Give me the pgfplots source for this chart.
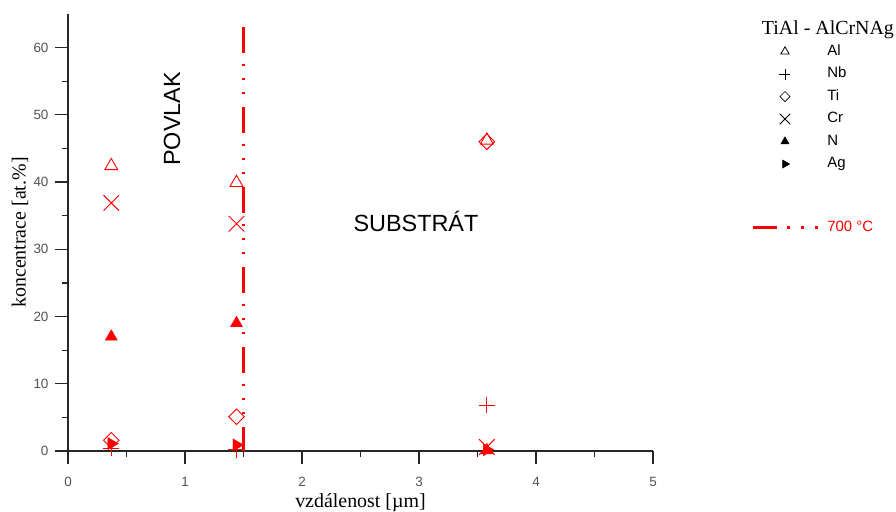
\documentclass[border=0pt]{standalone}
\usepackage{fontspec}
\setmainfont{Liberation Serif}
\setsansfont{Liberation Sans}
\usepackage{pgfplots}
\pgfplotsset{compat=1.18}
\newcommand\tl[1]{\sffamily\fontsize{13.5}{13.5}\selectfont #1}
\begin{document}
\begin{tikzpicture}
\path[use as bounding box] (-68bp,-61bp) rectangle (828bp,451bp);
\begin{axis}[
  scale only axis, width=585bp, height=437bp,
  xmin=0, xmax=5, ymin=0, ymax=65,
  axis lines*=left,
  axis line style={line width=1.4bp, black!85},
  xtick={0,1,2,3,4,5}, minor xtick={0.5,1.5,2.5,3.5,4.5},
  xticklabels={\tl{0},\tl{1},\tl{2},\tl{3},\tl{4},\tl{5}},
  ytick={0,10,20,30,40,50,60}, minor ytick={5,15,25,35,45,55},
  yticklabels={\tl{0},\tl{10},\tl{20},\tl{30},\tl{40},\tl{50},\tl{60}},
  tick align=outside,
  major tick length=13bp, minor tick length=6bp,
  tick style={line width=1.2bp, black!85},
  every tick label/.append style={text=black!68},
  xticklabel shift=10bp,
  yticklabel shift=3bp,
  xlabel={vzdálenost [µm]}, ylabel={koncentrace [at.\%]},
  every axis x label/.style={at={(axis description cs:0.5,-0.118)}, anchor=center, font=\fontsize{20}{20}\selectfont},
  every axis y label/.style={at={(axis description cs:-0.082,0.5)}, anchor=center, rotate=90, font=\fontsize{20}{20}\selectfont},
  clip=false,
  legend style={at={(axis description cs:1.1692,0.930)}, anchor=north west, draw=none, fill=none,
    font=\sffamily\fontsize{15}{15}\selectfont,
    nodes={inner sep=0pt, text height=10.5bp, text depth=3bp},
    row sep=9bp, column sep=8bp, inner sep=0pt},
  legend cell align=left,
  legend image code/.code={\draw[mark repeat=2, mark phase=2, #1] plot coordinates {(0bp,0bp) (31.5bp,0bp) (63bp,0bp)};},
]
\addlegendimage{black, only marks, mark=triangle, mark size=4.8bp, line width=0.8bp}
\addlegendentry{Al}
\addlegendimage{black, only marks, mark=+, mark size=5.5bp, line width=0.6bp}
\addlegendentry{Nb}
\addlegendimage{black, only marks, mark=square, mark options={rotate=45}, mark size=3.6bp, line width=0.6bp}
\addlegendentry{Ti}
\addlegendimage{black, only marks, mark=x, mark size=7.5bp, line width=0.9bp}
\addlegendentry{Cr}
\addlegendimage{black, only marks, mark=triangle*, mark size=4.8bp}
\addlegendentry{N}
\addlegendimage{black, only marks, mark=triangle*, mark options={rotate=-90}, mark size=4.8bp}
\addlegendentry{Ag}
\addlegendimage{empty legend}
\addlegendentry[text height=29bp]{}
\addlegendimage{legend image code/.code={\draw[red, line width=2.6bp, dash pattern=on 24bp off 10bp on 2.5bp off 11.5bp on 2.5bp off 11.5bp on 2.5bp off 20bp] (0bp,0bp) -- (64.5bp,0bp);}}
\addlegendentry[text=red]{700 °C}

% Al
\addplot[red, only marks, mark=triangle, mark size=7.5bp, line width=0.9bp, forget plot]
  coordinates {(0.37,42.4) (1.44,39.9) (3.58,46.2)};
% Nb
\addplot[red, only marks, mark=+, mark size=8bp, line width=0.9bp, forget plot]
  coordinates {(0.37,0.4) (1.44,0.2) (3.58,6.8)};
% Ti
\addplot[red, only marks, mark=square, mark options={rotate=45}, mark size=5.5bp, line width=0.9bp, forget plot]
  coordinates {(0.37,1.6) (1.44,5.1) (3.58,46.0)};
% Cr
\addplot[red, only marks, mark=x, mark size=11bp, line width=1bp, forget plot]
  coordinates {(0.37,36.9) (1.44,33.8) (3.58,0.6)};
% N
\addplot[red, only marks, mark=triangle*, mark size=7bp, forget plot]
  coordinates {(0.37,17.0) (1.44,19.0) (3.58,0.1)};
% Ag
\addplot[red, only marks, mark=triangle*, mark options={rotate=-90}, mark size=7bp, forget plot]
  coordinates {(0.37,1.1) (1.44,0.9) (3.58,0.2)};

% vertical 700 C line (dash-dot-dot)
\addplot[red, mark=none, line width=2.6bp, dash pattern=on 26bp off 11bp on 2.5bp off 11.5bp on 2.5bp off 11.5bp on 2.5bp off 12.5bp, forget plot]
  coordinates {(1.5,63.1) (1.5,0)};

\node[font=\sffamily\fontsize{23.5}{23.5}\selectfont, rotate=90, anchor=center] at (axis cs:0.889,49.4) {POVLAK};
\node[font=\sffamily\fontsize{23.5}{23.5}\selectfont, anchor=center] at (axis cs:2.974,34.2) {SUBSTRÁT};
\node[font=\fontsize{20}{20}\selectfont, anchor=center] at (axis description cs:1.299,0.963) {TiAl - AlCrNAg};
\end{axis}
\end{tikzpicture}
\end{document}
